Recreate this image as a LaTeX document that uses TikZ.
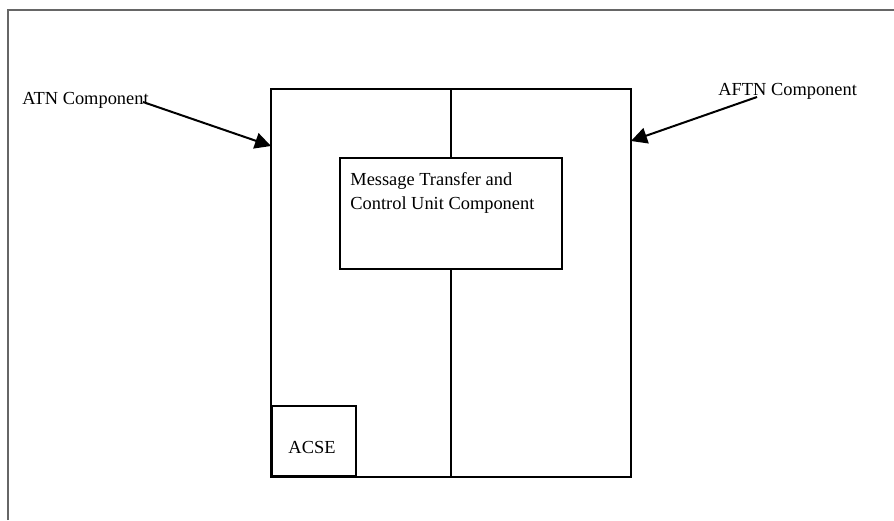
\documentclass[tikz,border=0pt]{standalone}
\usepackage{fontspec}
\setmainfont{Liberation Serif}
\usetikzlibrary{arrows.meta}

\begin{document}
\begin{tikzpicture}[x=0.5pt,y=-0.5pt,
    box/.style={draw,line width=1pt,inner sep=0pt},
    txt/.style={font=\fontsize{9.2}{12}\selectfont,inner sep=0pt},
    pointer/.style={line width=1pt,-{Triangle[length=8pt,width=8pt]}}]

    % Fix the page to the size of the picture
    \useasboundingbox (0,0) rectangle (894,520);

    % Outer frame, only its left and top edges show
    \draw[black!60,line width=0.8pt] (8,520) -- (8,10) -- (894,10);

    % Corners of the main system box
    \coordinate (TL) at (271,89);
    \coordinate (BR) at (631,477);
    \draw[line width=1pt] (TL) rectangle (BR);

    % Message transfer and control unit box in the middle
    \node[box,minimum width=111pt,minimum height=55.5pt] (mtcu) at (451,213.5) {};
    \node[txt,anchor=base west,align=left] (mtcutext) at (350,209)
        {Message Transfer and\\Control Unit Component};

    % Vertical divider, broken by the middle box
    \draw[line width=1pt] (mtcu.north) -- (mtcu.north |- TL);
    \draw[line width=1pt] (mtcu.south) -- (mtcu.south |- BR);

    % ACSE box in the lower left corner
    \node[box,anchor=south west,minimum width=42pt,minimum height=35pt] (acse) at (271,477) {};
    \node[txt,anchor=base] (acsetext) at (312,453) {ACSE};

    % Outside components and their pointers
    \node[txt,anchor=base west] (atn) at (22,104) {ATN Component};
    \node[txt,anchor=base west] (aftn) at (718,95) {AFTN Component};

    \coordinate (atnfrom) at (143,102);
    \coordinate (atnto) at (271,146);
    \coordinate (aftnfrom) at (757,97);
    \coordinate (aftnto) at (631,141);

    \draw[pointer] (atnfrom) -- (atnto);
    \draw[pointer] (aftnfrom) -- (aftnto);

\end{tikzpicture}
\end{document}
